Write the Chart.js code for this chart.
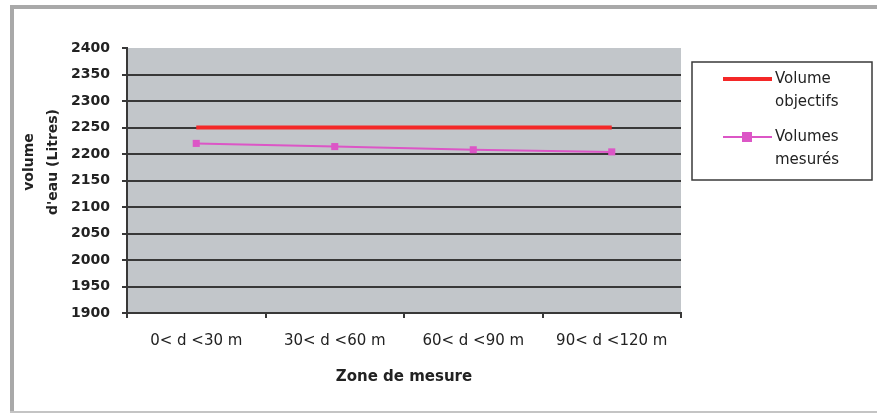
<!DOCTYPE html>
<html>
<head>
<meta charset="utf-8">
<script src="https://cdn.jsdelivr.net/npm/chart.js@4/dist/chart.umd.min.js"></script>
<style>
  html, body { margin: 0; padding: 0; background: #ffffff; }
  canvas { display: block; }
</style>
</head>
<body>
<canvas id="c" width="877" height="413"></canvas>
<script>
// Zones de mesure (abscisse)
const zones = ['0< d <30 m', '30< d <60 m', '60< d <90 m', '90< d <120 m'];
// Volume visé dans chaque zone (L)
const volumeObjectif = [2250, 2250, 2250, 2250];
// Volumes mesurés (L)
const volumesMesures = [2220, 2214, 2208, 2204];
// Noms des séries
const seriesNames = ['Volume objectifs', 'Volumes mesurés'];
// Graduations de l'axe des volumes
const yMin = 1900, yMax = 2400, yStep = 50;
const yTitleLines = ['volume', "d'eau (Litres)"];
const xTitle = 'Zone de mesure';

const RED = '#f42828';
const PINK = '#dc56c6';
const GRID = '#383838';
const TEXT = '#222222';
const FONT = "'DejaVu Sans', 'Liberation Sans', Arial, sans-serif";

// Cadre gris, fond de la zone de tracé
const framePlugin = {
  id: 'frame',
  beforeDraw(chart) {
    const ctx = chart.ctx, a = chart.chartArea;
    ctx.save();
    ctx.fillStyle = '#ffffff';
    ctx.fillRect(0, 0, chart.width, chart.height);
    ctx.fillStyle = '#a9a9a9';
    ctx.fillRect(10, 5, chart.width - 10, 4);
    ctx.fillRect(10, 5, 4, chart.height - 5);
    ctx.fillStyle = '#c4c4c4';
    ctx.fillRect(10, 411, chart.width - 10, 2);
    ctx.fillStyle = '#c2c6ca';
    ctx.fillRect(a.left, a.top, a.right - a.left, a.bottom - a.top);
    ctx.restore();
  }
};

// Titre vertical de l'axe des volumes, sur deux lignes
const yTitlePlugin = {
  id: 'yTitle',
  afterDraw(chart) {
    const ctx = chart.ctx;
    ctx.save();
    ctx.fillStyle = TEXT;
    ctx.font = "bold 14px " + FONT;
    ctx.textAlign = 'center';
    ctx.textBaseline = 'middle';
    const xs = [29, 53];
    yTitleLines.forEach((t, i) => {
      ctx.save();
      ctx.translate(xs[i], 162);
      ctx.rotate(-Math.PI / 2);
      ctx.fillText(t, 0, 0);
      ctx.restore();
    });
    ctx.restore();
  }
};

// Légende encadrée à droite
const boxLegendPlugin = {
  id: 'boxLegend',
  afterDraw(chart) {
    const ctx = chart.ctx;
    const bx = 692, by = 62, bw = 180, bh = 118;
    ctx.save();
    ctx.fillStyle = '#ffffff';
    ctx.fillRect(bx, by, bw, bh);
    ctx.strokeStyle = '#3a3a3a';
    ctx.lineWidth = 1.5;
    ctx.strokeRect(bx, by, bw, bh);
    const rows = [79, 137];
    chart.data.datasets.forEach((ds, i) => {
      const y = rows[i];
      ctx.strokeStyle = ds.borderColor;
      ctx.lineWidth = ds.borderWidth;
      ctx.beginPath();
      ctx.moveTo(723, y);
      ctx.lineTo(772, y);
      ctx.stroke();
      if (ds.pointRadius > 0) {
        ctx.fillStyle = ds.pointBackgroundColor;
        const r = ds.pointRadius;
        ctx.fillRect(747 - r, y - r, 2 * r, 2 * r);
      }
      const words = seriesNames[i].split(' ');
      ctx.fillStyle = TEXT;
      ctx.font = "15px " + FONT;
      ctx.textAlign = 'left';
      ctx.textBaseline = 'middle';
      ctx.fillText(words[0], 775, y);
      ctx.fillText(words.slice(1).join(' '), 775, y + 23);
    });
    ctx.restore();
  }
};

new Chart(document.getElementById('c'), {
  type: 'line',
  data: {
    labels: zones,
    datasets: [
      {
        label: seriesNames[0],
        data: volumeObjectif,
        borderColor: RED,
        backgroundColor: RED,
        borderWidth: 4,
        pointRadius: 0,
        pointBackgroundColor: RED,
        tension: 0,
        order: 0
      },
      {
        label: seriesNames[1],
        data: volumesMesures,
        borderColor: PINK,
        backgroundColor: PINK,
        borderWidth: 2,
        pointStyle: 'rect',
        pointRadius: 5,
        pointBackgroundColor: PINK,
        pointBorderColor: PINK,
        pointBorderWidth: 0,
        tension: 0,
        order: 1
      }
    ]
  },
  options: {
    responsive: false,
    animation: false,
    devicePixelRatio: 1,
    layout: { padding: { left: 14, top: 48, right: 196, bottom: 0 } },
    plugins: {
      legend: { display: false },
      tooltip: { enabled: false }
    },
    scales: {
      x: {
        offset: true,
        afterFit(scale) { scale.height = 100; },
        grid: {
          offset: true,
          drawOnChartArea: false,
          tickLength: 5,
          tickColor: GRID,
          lineWidth: 2
        },
        border: { display: true, color: GRID, width: 2 },
        ticks: {
          color: TEXT,
          padding: 14,
          maxRotation: 0,
          autoSkip: false,
          font: { family: FONT, size: 15 }
        },
        title: {
          display: true,
          text: xTitle,
          color: TEXT,
          font: { family: FONT, size: 15, weight: 'bold' },
          padding: { top: 0, bottom: 27 }
        }
      },
      y: {
        min: yMin,
        max: yMax,
        afterFit(scale) { scale.width = 113; },
        grid: {
          color: (c) => (c.tick && c.tick.value === yMax) ? 'rgba(0,0,0,0)' : GRID,
          tickColor: GRID,
          lineWidth: 2,
          tickLength: 5
        },
        border: { display: true, color: GRID, width: 2 },
        ticks: {
          stepSize: yStep,
          color: TEXT,
          padding: 12,
          callback: (v) => String(v),
          font: { family: FONT, size: 14, weight: 'bold' }
        }
      }
    }
  },
  plugins: [framePlugin, yTitlePlugin, boxLegendPlugin]
});
</script>
</body>
</html>
